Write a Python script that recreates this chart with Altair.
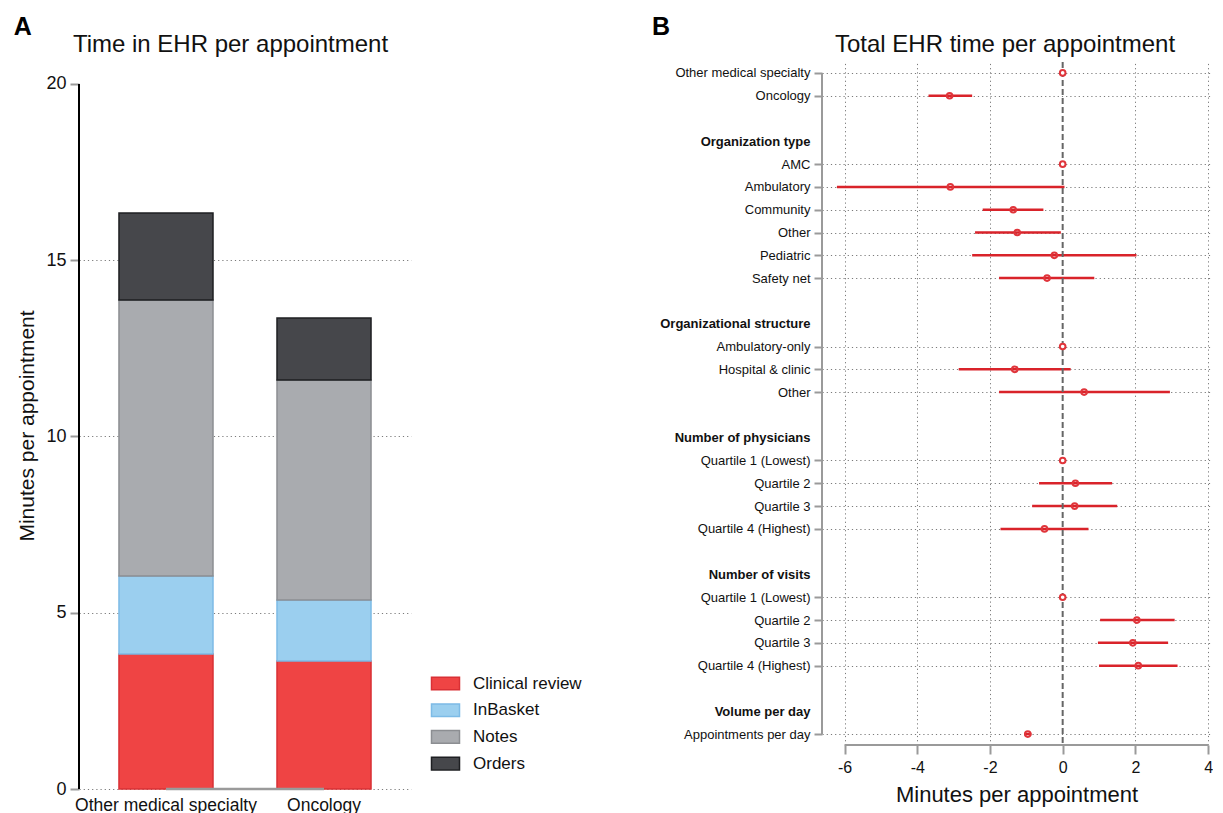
import json
import altair as alt
import pandas as pd

FONT = "Liberation Sans"

# ---------------- Panel A data ----------------
components = ["Clinical review", "InBasket", "Notes", "Orders"]
specialties = ["Other medical specialty", "Oncology"]
other_minutes = [3.83, 2.21, 7.83, 2.47]
oncology_minutes = [3.63, 1.73, 6.24, 1.76]
fill_colors = ["#EF4444", "#9BCFEF", "#A9ABAF", "#46474B"]
stroke_colors = ["#D93035", "#7DBBE6", "#8C8E92", "#1E1F22"]

# ---------------- Panel B data ----------------
row_labels = [
    "Other medical specialty", "Oncology", "",
    "Organization type", "AMC", "Ambulatory", "Community", "Other", "Pediatric", "Safety net", "",
    "Organizational structure", "Ambulatory-only", "Hospital & clinic", "Other", "",
    "Number of physicians", "Quartile 1 (Lowest)", "Quartile 2", "Quartile 3", "Quartile 4 (Highest)", "",
    "Number of visits", "Quartile 1 (Lowest)", "Quartile 2", "Quartile 3", "Quartile 4 (Highest)", "",
    "Volume per day", "Appointments per day",
]
header_rows = [3, 11, 16, 22, 28]
estimates = [0, -3.11, None,
             None, 0, -3.09, -1.36, -1.25, -0.23, -0.43, None,
             None, 0, -1.32, 0.59, None,
             None, 0, 0.35, 0.33, -0.50, None,
             None, 0, 2.04, 1.93, 2.08, None,
             None, -0.96]
ci_low = [None, -3.69, None,
          None, None, -6.21, -2.20, -2.41, -2.49, -1.75, None,
          None, None, -2.86, -1.75, None,
          None, None, -0.65, -0.84, -1.71, None,
          None, None, 1.03, 0.97, 1.00, None,
          None, -1.06]
ci_high = [None, -2.49, None,
           None, None, 0.05, -0.53, -0.05, 2.03, 0.87, None,
           None, None, 0.22, 2.95, None,
           None, None, 1.36, 1.50, 0.71, None,
           None, None, 3.08, 2.90, 3.16, None,
           None, -0.86]
x_ticks_b = [-6, -4, -2, 0, 2, 4]

# ---------------- Panel A ----------------
rows_a = []
for spec, vals in zip(specialties, [other_minutes, oncology_minutes]):
    for i, (c, v) in enumerate(zip(components, vals)):
        rows_a.append({"specialty": spec, "component": c, "minutes": v, "order": i})
df_a = pd.DataFrame(rows_a)

WA, HA = 332, 727
YMAX_A = 20.624
GRID_COLOR = "#7a7a7a"
GRID_DASH = [1.2, 3]
AX_GRAY = "#9a9a9a"

legend_kw = dict(title=None, orient="none", legendX=358, legendY=613,
                 symbolType="M-2,-0.9L2,-0.9L2,0.9L-2,0.9Z", symbolSize=196,
                 symbolStrokeWidth=1.5, labelFontSize=17, labelOffset=19,
                 rowPadding=7.7, padding=0, labelColor="#111", labelFont=FONT,
                 labelLimit=300)

bars = alt.Chart(df_a).mark_bar(strokeWidth=1.5).encode(
    x=alt.X("specialty:N", sort=specialties, title=None,
            scale=alt.Scale(paddingInner=0.405, paddingOuter=0.253),
            axis=alt.Axis(domain=False, ticks=False, labelAngle=0, labelFontSize=17.5,
                          labelPadding=7, labelColor="#111", labelLimit=400, grid=False)),
    y=alt.Y("minutes:Q", stack="zero", title="Minutes per appointment",
            scale=alt.Scale(domain=[0, YMAX_A], nice=False, zero=True),
            axis=alt.Axis(values=[0, 5, 10, 15, 20], domain=False, tickSize=9, tickWidth=2,
                          tickColor=AX_GRAY, labelFontSize=18, labelPadding=4, labelColor="#111",
                          titleFontSize=21, titleFontWeight="normal", titlePadding=8,
                          titleColor="#111", grid=True, gridColor=GRID_COLOR, gridDash=GRID_DASH,
                          gridOpacity={"condition": {"test": "datum.value >= 20", "value": 0},
                                       "value": 1})),
    color=alt.Color("component:N", sort=components,
                    scale=alt.Scale(domain=components, range=fill_colors),
                    legend=alt.Legend(**legend_kw)),
    stroke=alt.Stroke("component:N", sort=components,
                      scale=alt.Scale(domain=components, range=stroke_colors),
                      legend=alt.Legend(**legend_kw)),
    order=alt.Order("order:Q", sort="ascending"),
)

one = pd.DataFrame({"k": [0]})
yaxis_a = alt.Chart(one).mark_rule(color="black", strokeWidth=2).encode(
    x=alt.value(0), y=alt.datum(0), y2=alt.datum(20))
xaxis_a = alt.Chart(one).mark_rule(color=AX_GRAY, strokeWidth=2.5).encode(
    x=alt.datum(specialties[0]), x2=alt.datum(specialties[1]), y=alt.datum(0))
letter_a = alt.Chart(pd.DataFrame({"t": ["A"]})).mark_text(
    fontSize=25, fontWeight="bold", font=FONT, align="center", baseline="alphabetic", color="black"
).encode(text="t:N", x=alt.value(-56.3), y=alt.value(-27))
title_a = alt.Chart(pd.DataFrame({"t": ["Time in EHR per appointment"]})).mark_text(
    fontSize=24, font=FONT, align="center", baseline="alphabetic", color="#111"
).encode(text="t:N", x=alt.value(151.5), y=alt.value(-10))

panel_a = alt.layer(bars, xaxis_a, yaxis_a, letter_a, title_a).properties(width=WA, height=HA)

# ---------------- Panel B ----------------
WB, HB = 389, 683
n_rows = len(row_labels)
df_b = pd.DataFrame({"row": list(range(n_rows)), "label": row_labels,
                     "est": estimates, "lo": ci_low, "hi": ci_high})
df_pts = df_b.dropna(subset=["est"]).copy()
df_pts["ref"] = df_pts["lo"].isna()
df_ci = df_b.dropna(subset=["lo"]).copy()

axis_rows = [i for i, l in enumerate(row_labels) if l != ""]
label_expr = "[" + ",".join(json.dumps(l) for l in row_labels) + "][datum.value]"
hdr_test = "indexof(" + json.dumps(header_rows) + ", datum.value) >= 0"

y_scale_b = alt.Scale(type="point", domain=list(range(n_rows)), padding=0.48)
x_scale_b = alt.Scale(domain=[-6.62, 4.08], nice=False, zero=False)

y_axis_b = alt.Axis(values=axis_rows, labelExpr=label_expr, domain=False, tickSize=8, tickWidth=2,
                    tickColor=AX_GRAY, labelOverlap=False,
                    tickOpacity={"condition": {"test": hdr_test, "value": 0}, "value": 1},
                    labelFontSize=13, labelPadding=4, labelColor="#111", labelLimit=400,
                    labelFontWeight={"condition": {"test": hdr_test, "value": "bold"},
                                     "value": "normal"},
                    grid=True, gridColor=GRID_COLOR, gridDash=GRID_DASH,
                    gridOpacity={"condition": {"test": hdr_test, "value": 0}, "value": 1},
                    title=None)
x_axis_b = alt.Axis(values=x_ticks_b, domain=False, tickSize=9, tickWidth=2, tickColor=AX_GRAY,
                    labelFontSize=16, labelPadding=5, labelColor="#111", labelOverlap=False,
                    labelExpr="datum.value < 0 ? '-' + abs(datum.value) : '' + datum.value",
                    title="Minutes per appointment", titleFontSize=22, titleFontWeight="normal",
                    titlePadding=9, titleColor="#111",
                    grid=True, gridColor=GRID_COLOR, gridDash=GRID_DASH,
                    gridOpacity={"condition": {"test": "datum.value == 0", "value": 0},
                                 "value": 1})

RED_LINE = "#D9232A"
RED_PT = "#E0353B"

ci = alt.Chart(df_ci).mark_rule(color=RED_LINE, strokeWidth=2.5).encode(
    x=alt.X("lo:Q", scale=x_scale_b, axis=x_axis_b),
    x2="hi:Q",
    y=alt.Y("row:O", scale=y_scale_b, axis=y_axis_b),
)
zero_line = alt.Chart(one).mark_rule(color="#666666", strokeWidth=2, strokeDash=[6, 3]).encode(
    x=alt.datum(0))
axis_span = pd.DataFrame({"first": [0], "last": [n_rows - 1]})
yaxis_b = alt.Chart(axis_span).mark_rule(color=AX_GRAY, strokeWidth=2).encode(
    x=alt.value(0),
    y=alt.Y("first:O", scale=y_scale_b, axis=y_axis_b),
    y2="last",
)
xaxis_b = alt.Chart(one).mark_rule(color=AX_GRAY, strokeWidth=2).encode(
    y=alt.value(HB), x=alt.datum(-6), x2=alt.datum(4))
pts = alt.Chart(df_pts).mark_point(shape="circle", size=32, strokeWidth=2, opacity=1,
                                   color=RED_PT, filled=False).encode(
    x=alt.X("est:Q", scale=x_scale_b, axis=x_axis_b),
    y=alt.Y("row:O", scale=y_scale_b, axis=y_axis_b),
    fill=alt.condition("datum.ref", alt.value("white"), alt.value("transparent")),
)
letter_b = alt.Chart(pd.DataFrame({"t": ["B"]})).mark_text(
    fontSize=25, fontWeight="bold", font=FONT, align="center", baseline="alphabetic", color="black"
).encode(text="t:N", x=alt.value(-161), y=alt.value(-27))
title_b = alt.Chart(pd.DataFrame({"t": ["Total EHR time per appointment"]})).mark_text(
    fontSize=24, font=FONT, align="center", baseline="alphabetic", color="#111"
).encode(text="t:N", x=alt.value(183), y=alt.value(-10))

panel_b = alt.layer(ci, zero_line, yaxis_b, xaxis_b, pts, letter_b, title_b).properties(
    width=WB, height=HB)

chart = alt.hconcat(panel_a, panel_b, spacing=240).properties(
    padding={"left": 5, "top": 7, "right": 0, "bottom": 0}
).configure(font=FONT).configure_view(strokeWidth=0, stroke="transparent").configure_axis(
    labelFont=FONT, titleFont=FONT)

chart.save("out.html", embed_options={"renderer": "svg", "actions": False})
